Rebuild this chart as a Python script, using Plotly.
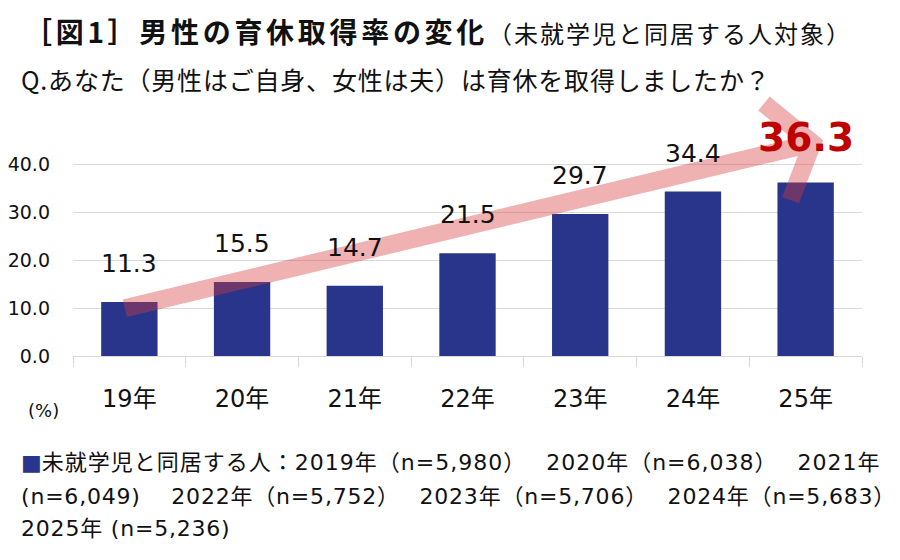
import plotly.graph_objects as go

# ---------------- data ----------------
categories = ["19年", "20年", "21年", "22年", "23年", "24年", "25年"]
rates = [11.3, 15.5, 14.7, 21.5, 29.7, 34.4, 36.3]
y_tick_values = [0, 10, 20, 30, 40]
survey_years = [2019, 2020, 2021, 2022, 2023, 2024, 2025]
sample_sizes = [5980, 6038, 6049, 5752, 5706, 5683, 5236]
series_name = "未就学児と同居する人"
title_main = "［図1］男性の育休取得率の変化"
title_sub = "（未就学児と同居する人対象）"
question = "Q.あなた（男性はご自身、女性は夫）は育休を取得しましたか？"
unit_label = "(%)"

# ---------------- layout constants ----------------
W, H = 900, 560
PAGE_OFF = 8                     # default body margin of the html page
PL, PT, PR, PB = 73, 93, 862, 356  # plot box in screen pixels
PW, PH = PR - PL, PB - PT
ML, MT = PL - PAGE_OFF, PT - PAGE_OFF
MR, MB = W - ML - PW, H - MT - PH
Y_MAX = 55

LAT = "DejaVu Sans, Noto Sans CJK JP, sans-serif"
JP = "Noto Sans CJK JP, sans-serif"
BAR_COLOR = "#28358A"
HILITE = "#C00000"
GRID = "#D9D9D9"
TXT = "#111111"


def xp(px):
    return (px - PL) / PW


def yp(py):
    return (PB - py) / PH


def spaced(text, px, extra=""):
    return f"<span style='letter-spacing:{px}px;{extra}'>{text}</span>"


fig = go.Figure()
fig.add_trace(go.Bar(
    x=categories, y=rates, width=0.5,
    marker=dict(color=BAR_COLOR, line=dict(width=0)),
    name=series_name, showlegend=False, hoverinfo="x+y",
))

annotations = []
# value labels
for i, (c, v) in enumerate(zip(categories, rates)):
    last = i == len(rates) - 1
    annotations.append(dict(
        x=c, y=v, xref="x", yref="y", text=f"<b>{v:.1f}</b>" if last else f"{v:.1f}",
        showarrow=False, yanchor="bottom", xanchor="center",
        yshift=20 if last else 22,
        font=dict(family=LAT, size=39 if last else 25, color=HILITE if last else TXT),
    ))

# titles
annotations.append(dict(
    x=xp(22), y=yp(PAGE_OFF + 1), xref="paper", yref="paper", xanchor="left", yanchor="top",
    showarrow=False,
    text="<b>" + spaced(title_main, 3.7) + "</b>" + spaced(title_sub, 2, "font-size:24px"),
    font=dict(family=JP, size=28, color=TXT),
))
annotations.append(dict(
    x=xp(19), y=yp(79), xref="paper", yref="paper", xanchor="left", yanchor="middle",
    showarrow=False, text=spaced(question, 0.8),
    font=dict(family=JP, size=25, color=TXT),
))
# unit label
annotations.append(dict(
    x=xp(43), y=yp(410), xref="paper", yref="paper", xanchor="center", yanchor="middle",
    showarrow=False, text=unit_label,
    font=dict(family=LAT, size=18, color=TXT),
))

# legend-like note (three wrapped lines as in the reference)
entries = [f"{y}年（n={n:,}）" for y, n in zip(survey_years, sample_sizes)]
gap = "　 "
line1 = (f"<span style='color:{BAR_COLOR}'>■</span>" +
         spaced(f"{series_name}：" + gap.join(entries[:2]) + gap + f"{survey_years[2]}年", 1.0))
line2 = spaced(f"(n={sample_sizes[2]:,})" + gap + gap.join(entries[3:6]), 0.8)
line3 = spaced(f"{survey_years[6]}年 (n={sample_sizes[6]:,})", 0.8)
for txt, cy in [(line1, 462), (line2, 496), (line3, 528)]:
    annotations.append(dict(
        x=xp(19), y=yp(cy), xref="paper", yref="paper", xanchor="left", yanchor="middle",
        showarrow=False, text=txt,
        font=dict(family=LAT, size=22, color=TXT),
    ))

# decorative trend arrow (in axis units: category index, percent)
shaft_start = (-0.04, 10.0)
apex = (6.06, 44.5)
head_top = (5.63, 52.8)
head_bottom = (5.866, 32.6)
arrow_path = (f"M {shaft_start[0]},{shaft_start[1]} L {apex[0]},{apex[1]} "
              f"M {head_top[0]},{head_top[1]} L {apex[0]},{apex[1]} L {head_bottom[0]},{head_bottom[1]}")
fig.add_shape(type="path", path=arrow_path, xref="x", yref="y", layer="above",
              line=dict(color="rgba(215,60,60,0.40)", width=18))

fig.update_layout(
    width=W, height=H,
    margin=dict(l=ML, r=MR, t=MT, b=MB, pad=0, autoexpand=False),
    paper_bgcolor="white", plot_bgcolor="white",
    bargap=0.5,
    annotations=annotations,
    showlegend=False,
    xaxis=dict(
        type="category", showline=True, linecolor=GRID, linewidth=1,
        ticks="outside", tickson="boundaries", ticklen=10, tickcolor=GRID, tickwidth=1,
        showgrid=False, ticklabelstandoff=21, automargin=False,
        tickfont=dict(family=LAT, size=24, color=TXT),
        range=[-0.5, 6.5], fixedrange=True,
    ),
    yaxis=dict(
        range=[0, Y_MAX], tickmode="array", tickvals=y_tick_values,
        ticktext=[f"{v:.1f}" for v in y_tick_values],
        showgrid=True, gridcolor=GRID, gridwidth=1, zeroline=False, showline=False,
        ticks="", ticklabelstandoff=22, automargin=False,
        tickfont=dict(family=LAT, size=19, color=TXT),
        fixedrange=True,
    ),
)

fig.write_html("out.html")
